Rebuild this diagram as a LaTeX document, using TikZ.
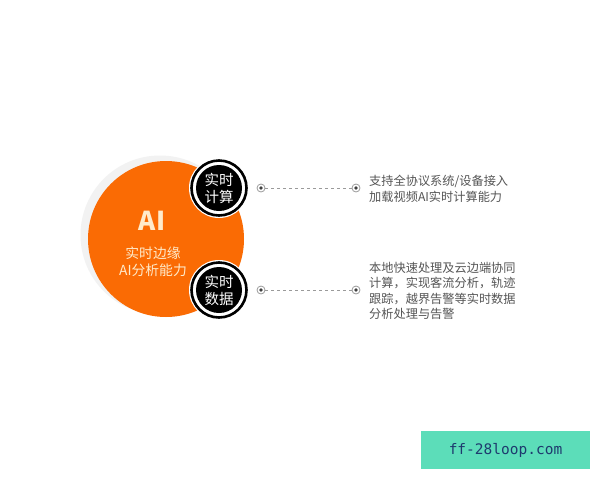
\documentclass[tikz,border=0pt]{standalone}
\usepackage{fontspec}
\setmainfont{Noto Sans CJK SC}
\newfontfamily\wmfont{DejaVu Sans Mono}
\definecolor{aiorange}{HTML}{FA6B04}
\definecolor{shadowgray}{HTML}{F2F2F2}
\definecolor{txtgray}{HTML}{555555}
\definecolor{dashgray}{HTML}{9A9A9A}
\definecolor{cream}{HTML}{FFEBCB}
\definecolor{wmgreen}{HTML}{5CDDB9}
\definecolor{wmblue}{HTML}{1E3A6E}
\begin{document}
\begin{tikzpicture}[x=1pt,y=-1pt,
  ring/.style={draw=black,line width=2.6pt},
  badge/.style={circle,fill=black,minimum size=46pt,inner sep=0pt,text=white,align=center,
    font=\fontsize{14.5}{17}\selectfont},
  dotmark/.style={circle,draw=dashgray,line width=0.8pt,fill=white,minimum size=8pt,inner sep=0pt,
    path picture={\fill[black!75] (path picture bounding box.center) circle (1.8pt);}},
  link/.style={draw=dashgray,line width=0.8pt,dash pattern=on 3pt off 3pt},
  desc/.style={anchor=north west,align=left,text=txtgray,inner sep=0pt,
    font=\fontsize{12.2}{15.5}\selectfont}]
\useasboundingbox (0,0) rectangle (600,480);
\fill[white] (0,0) rectangle (600,480);
% shadow and main circle
\fill[shadowgray] (160,235) circle (79.5);
\node[circle,fill=aiorange,minimum size=156pt,inner sep=0pt] (main) at (166,239) {};
\node[text=cream,font=\bfseries\fontsize{26}{28}\selectfont,inner sep=0pt] (ai) at (152,221) {AI};
\node[text=cream,align=center,font=\fontsize{13.8}{17}\selectfont,inner sep=0pt] (aitext) at (153,262) {实时边缘\\AI分析能力};
% badges
\fill[white] (219,188) circle (30);
\draw[ring] (219,188) circle (27.5);
\node[badge] (b1) at (219,188) {实时\\计算};
\fill[white] (219,290) circle (30);
\draw[ring] (219,290) circle (27.5);
\node[badge] (b2) at (219,290) {实时\\数据};
% connectors
\node[dotmark] (d1a) at (261,188) {};
\node[dotmark] (d1b) at (356,188) {};
\node[dotmark] (d2a) at (261,290) {};
\node[dotmark] (d2b) at (356,290) {};
\draw[link] (d1a) -- (d1b);
\draw[link] (d2a) -- (d2b);
% descriptions
\node[desc] (t1) at (369,175) {支持全协议系统/设备接入\\加载视频AI实时计算能力};
\node[desc] (t2) at (369,262) {本地快速处理及云边端协同\\计算，实现客流分析，轨迹\\跟踪，越界告警等实时数据\\分析处理与告警};
% watermark
\node[fill=wmgreen,minimum width=169pt,minimum height=38pt,inner sep=0pt,text=wmblue,
  font=\wmfont\fontsize{14.5}{16}\selectfont] (wm) at (505.5,450) {ff-28loop.com};
\end{tikzpicture}
\end{document}
